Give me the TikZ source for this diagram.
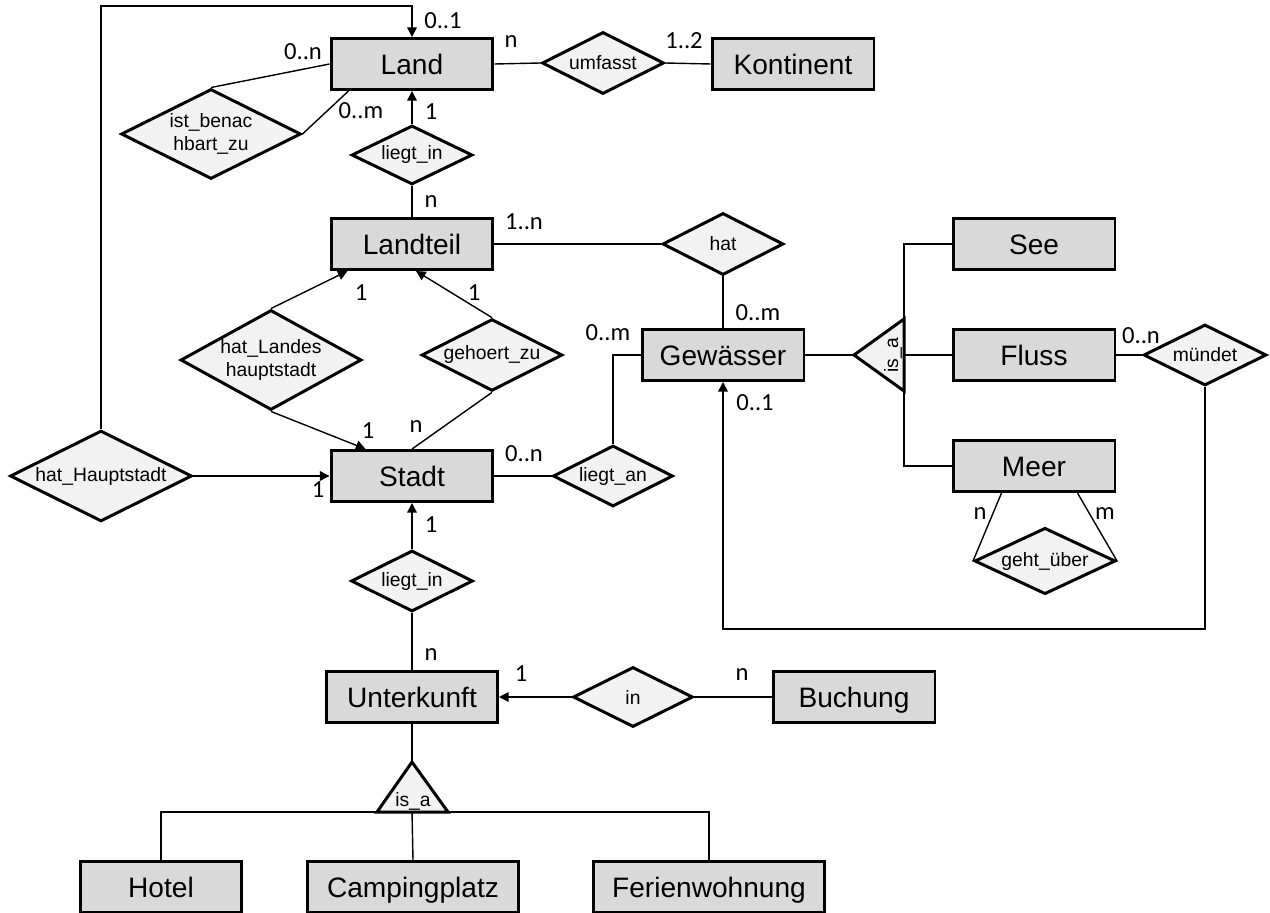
\documentclass[tikz,border=0pt]{standalone}
\usepackage{fontspec}
\setmainfont{Liberation Sans}
\newfontfamily\cardfont{Carlito}
\definecolor{boxgray}{RGB}{217, 217, 217}
\definecolor{relgray}{RGB}{242, 242, 242}
\usepackage{tikz}
\usetikzlibrary{shapes.geometric, arrows.meta, positioning, calc}

\begin{document}
\begin{tikzpicture}[x=0.02cm, y=-0.02cm,
  entity/.style={draw, line width=1.7pt, fill=boxgray, minimum width=3.24cm, minimum height=1.02cm, inner sep=0pt, text height=11.5pt, text depth=0pt, font=\fontsize{16}{19}\selectfont},
  rel/.style={diamond, draw, line width=1.7pt, fill=relgray, inner sep=0pt, aspect=1.8, align=center, font=\fontsize{11}{13.5}\selectfont},
  isabox/.style={draw, line width=1.7pt, fill=relgray, line join=miter},
  isatext/.style={inner sep=0pt, font=\fontsize{11}{13}\selectfont},
  card/.style={inner sep=0pt, font=\cardfont\fontsize{14}{16}\selectfont},
  conn/.style={line width=0.8pt},
  arr/.style={conn, -{Triangle[length=5.5pt, width=5.5pt]}}]
  \useasboundingbox (0,0) rectangle (1270,912);

  % Entities
  \node[entity] (land) at (412, 64) {Land};
  \node[entity] (kontinent) at (793, 64) {Kontinent};
  \node[entity] (landteil) at (412, 244) {Landteil};
  \node[entity] (see) at (1034, 244) {See};
  \node[entity] (gewaesser) at (723, 355) {Gewässer};
  \node[entity] (fluss) at (1034, 355) {Fluss};
  \node[entity] (meer) at (1034, 466) {Meer};
  \node[entity] (stadt) at (412, 476) {Stadt};
  \node[entity, minimum width=3.42cm] (unterkunft) at (412, 697) {Unterkunft};
  \node[entity] (buchung) at (854, 697) {Buchung};
  \node[entity] (hotel) at (161, 887) {Hotel};
  \node[entity, minimum width=4.24cm] (camping) at (413, 887) {Campingplatz};
  \node[entity, minimum width=4.64cm] (ferien) at (709, 887) {Ferienwohnung};

  % Relationships
  \node[rel, minimum width=2.44cm, minimum height=1.24cm] (umfasst) at (603, 63) {umfasst};
  \node[rel, minimum width=3.6cm, minimum height=1.8cm] (benach) at (211, 134) {ist\_benac\\hbart\_zu};
  \node[rel, minimum width=2.42cm, minimum height=1.18cm] (liegtinA) at (412, 155) {liegt\_in};
  \node[rel, minimum width=2.42cm, minimum height=1.24cm] (hat) at (723, 244) {hat};
  \node[rel, minimum width=3.62cm, minimum height=2.0cm] (hatLH) at (271, 360) {hat\_Landes\\hauptstadt};
  \node[rel, minimum width=2.82cm, minimum height=1.42cm] (gehoert) at (492, 355) {gehoert\_zu};
  \node[rel, minimum width=2.4cm, minimum height=1.22cm] (liegtan) at (613, 476) {liegt\_an};
  \node[rel, minimum width=3.64cm, minimum height=1.62cm] (hatHS) at (101, 476) {hat\_Hauptstadt};
  \node[rel, minimum width=2.44cm, minimum height=1.22cm] (liegtinB) at (412, 581) {liegt\_in};
  \node[rel, minimum width=2.4cm, minimum height=1.2cm] (in) at (633, 697) {in};
  \node[rel, minimum width=2.46cm, minimum height=1.22cm] (muendet) at (1205, 355) {mündet};
  \node[rel, minimum width=2.82cm, minimum height=1.22cm] (gehtueber) at (1045, 561) {geht\_über};

  % is_a triangles
  \coordinate (isaUtop) at (412, 762);
  \coordinate (isaUbase) at (412, 812);
  \draw[isabox] (isaUtop) -- (448, 812) -- (377, 812) -- cycle;
  \node[isatext] (isaU) at (413, 801) {is\_a};
  \coordinate (isaRtip) at (854, 355);
  \coordinate (isaRbase) at (904, 355);
  \draw[isabox] (isaRtip) -- (904, 319) -- (904, 391) -- cycle;
  \node[isatext, rotate=90] (isaR) at (893, 355) {is\_a};

  % Connectors
  \coordinate (hsTop) at (101, 6);
  \coordinate (mdLoop) at (723, 629);
  \draw[arr] (hatHS.north) -- (hsTop) -| (land.north);
  \draw[conn] (land.east) -- (umfasst.west);
  \draw[conn] (umfasst.east) -- (kontinent.west);
  \draw[conn] (benach.north) -- (land.west);
  \draw[conn] (benach.east) -- ([xshift=0.38cm]land.south west);
  \draw[arr] (liegtinA.north) -- (land.south);
  \draw[conn] (liegtinA.south) -- (landteil.north);
  \draw[conn] (landteil.east) -- (hat.west);
  \draw[conn] (hat.south) -- (gewaesser.north);
  \draw[arr] (hatLH.north) -- ([xshift=0.36cm]landteil.south west);
  \draw[arr] (hatLH.south) -- ([xshift=0.72cm]stadt.north west);
  \draw[arr] (gehoert.north) -- ([xshift=0.08cm]landteil.south);
  \draw[conn] (gehoert.south) -- (stadt.north);
  \draw[arr] (hatHS.east) -- (stadt.west);
  \draw[conn] (stadt.east) -- (liegtan.west);
  \draw[conn] (gewaesser.west) -| (liegtan.north);
  \draw[arr] (liegtinB.north) -- (stadt.south);
  \draw[conn] (liegtinB.south) -- (unterkunft.north);
  \draw[arr] (in.west) -- (unterkunft.east);
  \draw[conn] (in.east) -- (buchung.west);
  \draw[conn] (unterkunft.south) -- (isaUtop);
  \draw[conn] (hotel.north) |- (isaUbase) -| (ferien.north);
  \draw[conn] (camping.north) -- (isaUbase);
  \draw[conn] (gewaesser.east) -- (isaRtip);
  \draw[conn] (see.west) -| (isaRbase) |- (meer.west);
  \draw[conn] (fluss.west) -- (isaRbase);
  \draw[conn] (fluss.east) -- (muendet.west);
  \draw[arr] (muendet.south) |- (mdLoop) -- (gewaesser.south);
  \draw[conn] ([xshift=1.0cm]meer.south west) -- (gehtueber.west);
  \draw[conn] ([xshift=-0.78cm]meer.south east) -- (gehtueber.east);

  % Cardinalities
  \node[card] at (443, 21) {0..1};
  \node[card] at (303, 52) {0..n};
  \node[card] at (511, 42) {n};
  \node[card] at (684, 41) {1..2};
  \node[card] at (361, 111) {0..m};
  \node[card] at (431, 112) {1};
  \node[card] at (431, 202) {n};
  \node[card] at (524, 222) {1..n};
  \node[card] at (361, 293) {1};
  \node[card] at (474, 293) {1};
  \node[card] at (758, 313) {0..m};
  \node[card] at (608, 333) {0..m};
  \node[card] at (1141, 336) {0..n};
  \node[card] at (755, 403) {0..1};
  \node[card] at (368, 431) {1};
  \node[card] at (416, 427) {n};
  \node[card] at (524, 454) {0..n};
  \node[card] at (318, 490) {1};
  \node[card] at (980, 514) {n};
  \node[card] at (1105, 514) {m};
  \node[card] at (431, 525) {1};
  \node[card] at (431, 655) {n};
  \node[card] at (521, 674) {1};
  \node[card] at (742, 675) {n};
\end{tikzpicture}
\end{document}
